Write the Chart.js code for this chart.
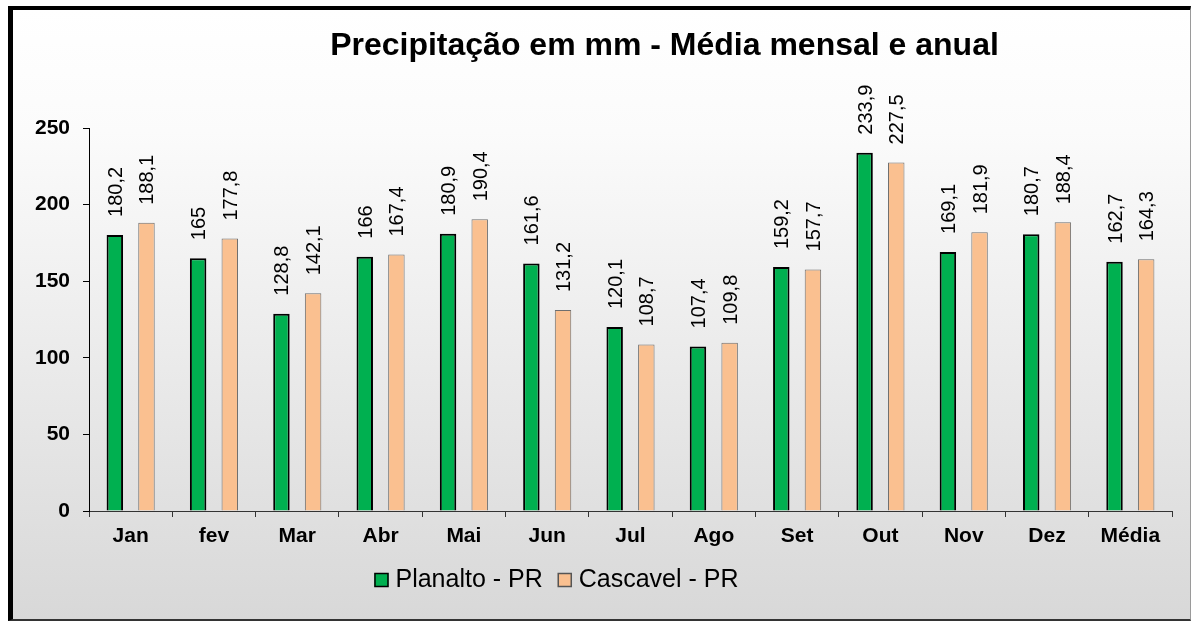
<!DOCTYPE html>
<html>
<head>
<meta charset="utf-8">
<script src="https://cdn.jsdelivr.net/npm/chart.js@4/dist/chart.umd.min.js"></script>
<style>
  html, body { margin: 0; padding: 0; background: #ffffff; }
  #frame {
    position: absolute; left: 8px; top: 6px;
    width: 1177px; height: 609px;
    border-left: 5px solid #000; border-top: 4px solid #000;
    border-right: 1px solid #9a9a9a; border-bottom: 2px solid #333;
    background: linear-gradient(to bottom, #ffffff 0%, #fbfbfb 20%, #d8d8d8 100%);
  }
  canvas { display: block; }
</style>
</head>
<body>
<div id="frame"><canvas id="c" width="1177" height="609"></canvas></div>
<script>
const titleText = 'Precipitação em mm - Média mensal e anual';
const categories = ['Jan','fev','Mar','Abr','Mai','Jun','Jul','Ago','Set','Out','Nov','Dez','Média'];
const seriesNames = ['Planalto - PR','Cascavel - PR'];
const planalto = [180.2,165,128.8,166,180.9,161.6,120.1,107.4,159.2,233.9,169.1,180.7,162.7];
const cascavel = [188.1,177.8,142.1,167.4,190.4,131.2,108.7,109.8,157.7,227.5,181.9,188.4,164.3];
const yTicks = [0,50,100,150,200,250];

const FONT = "'Liberation Sans', Arial, sans-serif";
const fmt = v => String(v).replace('.', ',');

const labelsPlugin = {
  id: 'barLabels',
  afterDatasetsDraw(chart) {
    const ctx = chart.ctx;
    ctx.save();
    ctx.font = '20px ' + FONT;
    ctx.fillStyle = '#000';
    ctx.textAlign = 'left';
    ctx.textBaseline = 'alphabetic';
    chart.data.datasets.forEach((ds, i) => {
      const meta = chart.getDatasetMeta(i);
      meta.data.forEach((bar, j) => {
        ctx.save();
        ctx.translate(bar.x, bar.y - 18);
        ctx.rotate(-Math.PI / 2);
        ctx.fillText(fmt(ds.data[j]), 0, 7);
        ctx.restore();
      });
    });
    ctx.restore();
  }
};

const titleLegendPlugin = {
  id: 'titleLegend',
  afterDraw(chart) {
    const ctx = chart.ctx;
    const ca = chart.chartArea;
    const cx = (ca.left + ca.right) / 2;
    ctx.save();
    // title
    ctx.font = 'bold 32px ' + FONT;
    ctx.fillStyle = '#000';
    ctx.textAlign = 'center';
    ctx.textBaseline = 'alphabetic';
    ctx.fillText(titleText, cx + 34, ca.top - 73);
    // legend
    ctx.font = '25px ' + FONT;
    ctx.textAlign = 'left';
    const box = 14, gapText = 7, gapItem = 15;
    const ds = chart.data.datasets;
    let total = 0;
    ds.forEach((d, i) => {
      total += box + gapText + ctx.measureText(d.label).width;
      if (i < ds.length - 1) total += gapItem;
    });
    let x = cx - 74 - total / 2;
    const base = ca.bottom + 76;
    ds.forEach((d, i) => {
      ctx.fillStyle = d.backgroundColor;
      ctx.fillRect(x, base - box, box, box);
      ctx.lineWidth = 1.5;
      ctx.strokeStyle = i === 0 ? '#000' : '#555';
      ctx.strokeRect(x + 0.5, base - box + 0.5, box - 1, box - 1);
      x += box + gapText;
      ctx.fillStyle = '#000';
      ctx.fillText(d.label, x, base);
      x += ctx.measureText(d.label).width + gapItem;
    });
    ctx.restore();
  }
};

new Chart(document.getElementById('c'), {
  type: 'bar',
  data: {
    labels: categories,
    datasets: [
      { label: seriesNames[0], data: planalto, backgroundColor: '#00B050', borderColor: '#000', borderWidth: 2, borderSkipped: 'bottom' },
      { label: seriesNames[1], data: cascavel, backgroundColor: '#FAC090', borderColor: '#6e6e6e', borderWidth: 1, borderSkipped: 'bottom' }
    ]
  },
  options: {
    responsive: false,
    animation: false,
    devicePixelRatio: 1,
    layout: { padding: { top: 118, right: 18, bottom: 0, left: 0 } },
    plugins: { legend: { display: false }, title: { display: false }, tooltip: { enabled: false } },
    datasets: { bar: { categoryPercentage: 0.76, barPercentage: 0.52 } },
    scales: {
      x: {
        offset: true,
        grid: { display: true, drawOnChartArea: false, drawTicks: true, tickLength: 6, color: '#333', offset: true },
        border: { display: true, color: '#333', width: 1 },
        ticks: { color: '#000', font: { family: FONT, size: 21, weight: 'bold' }, padding: 7, maxRotation: 0 },
        afterFit(s) { s.height = 108; }
      },
      y: {
        min: 0, max: 250,
        afterBuildTicks(s) { s.ticks = yTicks.map(v => ({ value: v })); },
        grid: { display: true, drawOnChartArea: false, drawTicks: true, tickLength: 6, color: '#000' },
        border: { display: true, color: '#000', width: 1 },
        ticks: { color: '#000', font: { family: FONT, size: 21, weight: 'bold' }, padding: 13 },
        afterFit(s) { s.width = 76; }
      }
    }
  },
  plugins: [labelsPlugin, titleLegendPlugin]
});
</script>
</body>
</html>
